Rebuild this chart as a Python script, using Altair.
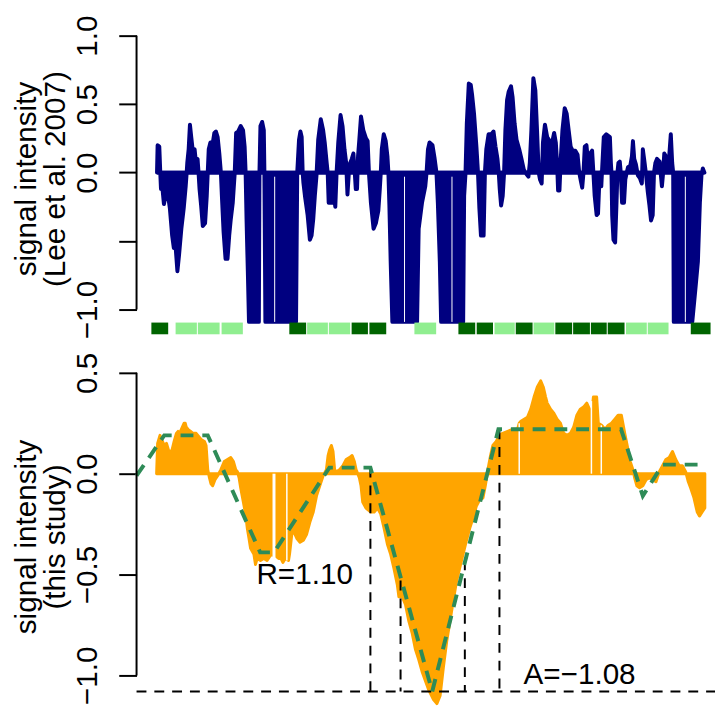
import altair as alt
import pandas as pd

# ---------------- data (positions in kb from the left edge of the region) ----------------
top_pos = [2.07, 2.13, 2.30, 2.40, 2.47, 2.60, 2.77, 2.93, 3.13, 3.37, 3.60, 3.77, 3.93, 4.13, 4.30, 4.53, 4.77, 4.97,
           5.07, 5.13, 5.27, 5.40, 5.53, 5.67, 5.87, 5.97, 6.17, 6.27, 6.37, 6.53, 6.70, 6.93, 7.10, 7.20, 7.30, 7.47,
           7.67, 7.87, 8.03, 8.20, 8.37, 8.53, 8.63, 8.80, 9.00, 9.20, 9.37, 9.53, 9.73, 9.93, 10.07, 10.27, 10.53,
           10.77, 10.93, 11.03, 11.13, 11.27, 11.37, 12.37, 12.43, 12.53, 12.70, 12.87, 12.93, 13.03, 16.13, 16.25,
           16.43, 16.57, 16.70, 16.80, 16.87, 17.03, 17.30, 17.53, 17.70, 17.87, 18.03, 18.20, 18.37, 18.63, 18.87,
           19.03, 19.23, 19.33, 19.43, 19.77, 19.97, 20.10, 20.23, 20.40, 20.63, 20.83, 21.03, 21.20, 21.33, 21.47,
           21.60, 21.77, 21.93, 22.07, 22.17, 22.30, 22.40, 22.53, 22.70, 22.93, 23.20, 23.37, 23.50, 23.70, 23.97,
           24.20, 24.45, 24.60, 24.70, 24.80, 25.00, 25.20, 25.37, 25.47, 25.57, 25.70, 25.87, 28.37, 28.53, 28.87,
           29.20, 29.33, 29.47, 29.63, 29.93, 30.13, 30.33, 30.47, 30.67, 30.80, 33.03, 33.13, 33.27, 33.40, 33.60,
           33.80, 33.93, 34.13, 34.37, 34.53, 34.67, 34.83, 35.10, 35.23, 35.37, 35.60, 35.87, 36.10, 36.30, 36.50,
           36.63, 36.73, 36.87, 37.03, 37.17, 37.30, 37.47, 37.63, 37.87, 38.03, 38.23, 38.43, 38.70, 38.93, 39.17,
           39.43, 39.63, 39.77, 39.93, 40.13, 40.33, 40.50, 40.67, 40.80, 40.97, 41.10, 41.30, 41.53, 41.70, 41.87,
           42.03, 42.23, 42.40, 42.53, 42.63, 42.77, 42.90, 43.07, 43.30, 43.50, 43.70, 43.90, 44.10, 44.37, 44.60,
           44.77, 44.93, 45.07, 45.20, 45.33, 45.50, 45.67, 45.87, 46.07, 46.20, 46.33, 46.53, 46.67, 46.77, 46.87,
           47.00, 47.10, 47.25, 47.50, 47.87, 47.97, 48.03, 48.10, 48.23, 48.40, 48.53, 48.63, 48.73, 48.87, 48.97,
           49.10, 49.30, 49.43, 49.57, 49.70, 49.93, 50.10, 50.20, 50.33, 50.50, 50.70, 50.90, 51.10, 51.20, 51.33,
           51.50, 51.70, 51.87, 52.03, 52.20, 52.33, 52.47, 52.63, 52.90, 53.00, 53.13, 53.23, 53.37, 53.53, 53.67,
           53.87, 54.03, 54.17, 54.27, 54.33, 56.20, 56.53, 56.77, 56.97, 57.13, 57.27, 57.43]
top_val = [0, 0.20, 0.19, 0, -0.12, -0.10, -0.23, -0.17, -0.14, -0.26, -0.46, -0.55, -0.52, -0.72, -0.60, -0.41, -0.26, -0.10,
           0, 0.07, 0.17, 0.35, 0.26, 0.17, 0.17, 0.10, 0.10, 0, -0.12, -0.24, -0.39, -0.37, -0.17, 0, 0.17, 0.22,
           0.20, 0.29, 0.30, 0.26, 0.14, 0, -0.17, -0.43, -0.63, -0.63, -0.46, -0.34, -0.22, 0, 0.29, 0.30, 0.34,
           0.31, 0.19, 0, -0.36, -0.77, -1.09, -1.09, 0, 0.34, 0.37, 0.31, 0, -1.09, -1.09, 0,
           0.24, 0.30, 0.26, 0, -0.07, -0.17, -0.31, -0.49, -0.46, -0.34, -0.17, -0.02, 0.24, 0.39, 0.31,
           0.22, 0.07, 0, -0.22, -0.22, -0.17, -0.25, 0, 0.22, 0.42, 0.34, 0.17, 0.07, -0.16, 0,
           0.07, 0.10, 0.14, 0, -0.12, -0.12, 0.12, 0.24, 0.41, 0.31, 0.25, 0.23, 0, -0.22, -0.41,
           -0.37, -0.28, -0.12, 0, 0.17, 0.28, 0.23, 0.12, 0, -0.24, -0.65, -1.09, -1.09, -0.41, -0.22,
           -0.10, 0, 0.17, 0.22, 0.20, 0.11, 0, -0.22, -0.65, -1.09, -1.09, -0.17, 0, 0.36, 0.65,
           0.64, 0.57, 0.43, 0.19, 0, -0.26, -0.46, -0.46, 0, 0.17, 0.28, 0.28, 0.30, 0.19, 0.10,
           0, -0.12, -0.24, -0.17, 0, 0.31, 0.53, 0.59, 0.63, 0.55, 0.36, 0.24, 0.17, 0.10, 0.02,
           -0.01, -0.03, 0.07, 0.31, 0.69, 0.60, 0.31, 0, -0.05, -0.08, 0.22, 0.35, 0.26, 0.24, 0.17,
           0.22, 0.29, 0.22, 0.07, -0.13, -0.13, 0.10, 0.31, 0.47, 0.43, 0.31, 0.19, 0.16, 0.16, 0.13,
           0, -0.06, -0.11, 0, 0.19, 0.20, 0.07, 0.14, 0.16, 0, -0.17, -0.31, -0.30, -0.12, 0,
           -0.10, 0.05, 0.26, 0.28, 0.26, 0.07, 0, -0.31, -0.49, -0.51, -0.24, 0, 0.07, 0.08, 0,
           -0.22, -0.22, -0.05, 0, 0.04, 0.05, 0.12, 0.23, 0.10, 0.06, -0.02, -0.04, -0.08, 0.17, 0.10,
           0, -0.14, -0.24, -0.35, -0.31, 0, 0.07, 0.10, 0.08, 0, -0.10, -0.02, 0.14, 0.12, 0.05,
           0.12, 0.28, 0.07, 0, -1.09, -1.09, -0.84, -0.65, -0.22, -0.02, 0.03, 0]

top_gap_pos = [13.97, 27.10, 31.90, 55.50]

bar_start = [1.50, 3.95, 6.20, 8.60, 15.45, 17.25, 19.45, 21.75, 23.55, 28.10, 32.55, 34.40, 36.20, 38.35, 40.15,
             42.35, 44.15, 45.95, 47.65, 49.50, 51.70, 56.05]
bar_end = [3.20, 6.10, 8.40, 10.75, 17.15, 19.35, 21.60, 23.40, 25.25, 30.30, 34.25, 36.05, 38.25, 40.05, 42.25,
           44.05, 45.85, 47.55, 49.35, 51.60, 53.80, 58.05]
bar_kind = ["dark", "light", "light", "light", "dark", "light", "light", "dark", "dark", "light", "dark", "dark",
            "light", "dark", "light", "dark", "dark", "dark", "dark", "light", "light", "dark"]

bot_pos = [2.03, 2.13, 2.37, 2.53, 2.80, 3.03, 3.27, 3.47, 3.60, 3.80, 4.03, 4.20, 4.37, 4.53, 4.80, 4.93, 5.03, 5.20,
           5.47, 5.70, 6.03, 6.20, 6.53, 6.87, 7.03, 7.20, 7.37, 7.53, 7.70, 7.93, 8.20, 8.53, 8.87, 9.20, 9.53, 9.80,
           10.03, 10.20, 10.37, 10.53, 10.80, 11.03, 11.20, 11.37, 11.53, 11.87, 12.03, 12.20, 12.53, 12.87, 13.20,
           13.60, 14.13, 14.37, 14.60, 14.80, 15.03, 15.37, 15.47, 15.70, 15.93, 16.20, 16.53, 16.87, 17.20, 17.53,
           17.87, 18.20, 18.53, 18.87, 19.20, 19.37, 19.53, 19.70, 19.87, 20.03, 20.20, 20.53, 20.87, 21.20, 21.53,
           21.80, 22.03, 22.20, 22.53, 22.70, 22.87, 23.20, 23.70, 24.03, 24.37, 24.70, 25.03, 25.37, 25.70, 26.03,
           26.37, 26.53, 26.87, 27.20, 27.53, 27.87, 28.20, 28.53, 28.87, 29.53, 30.03, 30.37, 30.70, 31.03, 31.37,
           31.70, 32.03, 32.37, 32.87, 33.37, 33.70, 34.03, 34.37, 34.70, 35.03, 35.27, 35.53, 35.80, 36.03, 36.37,
           36.70, 37.03, 37.53, 38.03, 38.53, 38.70, 38.87, 39.20, 39.53, 39.87, 40.20, 40.53, 40.87, 41.13, 41.37,
           41.53, 41.87, 42.20, 42.53, 42.87, 43.20, 43.53, 43.87, 44.20, 44.53, 44.87, 45.20, 45.53, 45.80, 46.03,
           46.20, 46.53, 46.70, 47.03, 47.37, 47.70, 48.03, 48.37, 48.70, 49.03, 49.37, 49.70, 49.93, 50.20, 50.37,
           50.60, 50.87, 51.20, 51.53, 51.87, 52.20, 52.53, 52.87, 53.20, 53.53, 53.87, 54.20, 54.53, 54.87, 55.20,
           55.53, 55.80, 56.03, 56.37, 56.70, 56.93, 57.20, 57.47]
bot_val = [0, 0.15, 0.19, 0.17, 0.14, 0.15, 0.11, 0.11, 0.12, 0.16, 0.20, 0.21, 0.20, 0.22, 0.25, 0.25, 0.23, 0.22,
           0.21, 0.20, 0.20, 0.19, 0.17, 0.16, 0.14, 0.02, -0.02, -0.05, -0.06, -0.03, -0.01, 0.02, 0.06, 0.07, 0.08, 0.06,
           0.02, 0.01, -0.02, -0.07, -0.14, -0.20, -0.27, -0.32, -0.37, -0.40, -0.45, -0.42, -0.43, -0.42, -0.43,
           -0.40, -0.41, -0.42, -0.42, -0.44, -0.42, -0.43, -0.40, -0.30, -0.29, -0.32, -0.34, -0.33, -0.30, -0.24,
           -0.19, -0.11, -0.06, -0.01, 0.02, 0.09, 0.12, 0.14, 0.11, 0.02, 0.01, 0.02, 0.04, 0.07, 0.08,
           0.09, 0.06, 0.02, -0.02, -0.06, -0.14, -0.17, -0.19, -0.19, -0.17, -0.20, -0.27, -0.35, -0.40, -0.47,
           -0.55, -0.61, -0.61, -0.65, -0.73, -0.79, -0.87, -0.92, -0.98, -1.07, -1.12, -1.14, -1.10, -0.96, -0.83,
           -0.73, -0.63, -0.53, -0.43, -0.33, -0.27, -0.22, -0.16, -0.13, -0.12, -0.06, 0.02, 0.09, 0.14, 0.16,
           0.19, 0.20, 0.21, 0.22, 0.22, 0.25, 0.26, 0.27, 0.28, 0.32, 0.38, 0.43, 0.46, 0.43, 0.38,
           0.35, 0.32, 0.30, 0.27, 0.25, 0.20, 0.19, 0.20, 0.23, 0.29, 0.32, 0.33, 0.35, 0.32, 0.29,
           0.38, 0.38, 0.25, 0.24, 0.22, 0.24, 0.25, 0.27, 0.29, 0.29, 0.20, 0.12, 0.06, 0.02, -0.02,
           -0.06, -0.07, -0.06, -0.03, -0.02, -0.03, -0.04, 0.01, 0.04, 0.07, 0.08, 0.11, 0.07, 0.04, 0.04,
           0.01, -0.04, -0.07, -0.12, -0.19, -0.21, -0.19, -0.17]

bot_gap_pos = [13.90, 15.20, 38.70, 46.00, 47.00]
bot_gap_lo = [-0.45, -0.43, 0.0, 0.0, 0.0]
bot_gap_hi = [0.0, 0.0, 0.25, 0.36, 0.24]
bot_gap_w = [3, 1.5, 1.5, 1.5, 1.5]

fit_pos = [0.0, 2.8, 7.2, 12.5, 13.9, 19.5, 23.65, 29.9, 36.6, 49.0, 51.2, 53.2, 57.4]
fit_val = [-0.01, 0.19, 0.19, -0.39, -0.39, 0.03, 0.03, -1.08, 0.22, 0.22, -0.11, 0.045, 0.045]

vline_pos = [23.65, 26.70, 33.20, 36.70]
vline_top = [0.03, -0.53, -0.43, 0.22]
amp_level = -1.08
region_end = 58.5

notes_text = ["R=1.10", "A=\u22121.08"]
notes_pos = [17.0, 44.8]
notes_val = [-0.505, -1.0]

# ---------------- frames ----------------
df_top = pd.DataFrame({"pos": top_pos, "val": top_val})
df_tgap = pd.DataFrame({"pos": top_gap_pos})
df_bars = pd.DataFrame({"start": bar_start, "end": bar_end, "kind": bar_kind})
df_bot = pd.DataFrame({"pos": bot_pos, "val": bot_val})
df_bgap = pd.DataFrame({"pos": bot_gap_pos, "lo": bot_gap_lo, "hi": bot_gap_hi, "w": bot_gap_w})
df_fit = pd.DataFrame({"pos": fit_pos, "val": fit_val})
df_vl = pd.DataFrame({"pos": vline_pos, "top": vline_top})
df_notes = pd.DataFrame({"pos": notes_pos, "val": notes_val, "txt": notes_text})

FONT = "Liberation Sans"
xs = alt.Scale(domain=[0, 58.6], nice=False, zero=False)
ys_top = alt.Scale(domain=[-1.1805, 1.0794], nice=False, zero=False)
ys_bot = alt.Scale(domain=[-1.1422, 0.5637], nice=False, zero=False)


def yaxis(values, expr=None):
    kw = dict(values=values, format=".1f", title=None, domain=False, grid=False, ticks=True,
              tickSize=18, tickWidth=2, tickColor="black", labelAngle=270, labelAlign="center",
              labelBaseline="alphabetic", labelPadding=23, labelFontSize=30, labelFont=FONT,
              labelColor="black", labelFlush=False, labelOverlap=False)
    if expr:
        kw["labelExpr"] = expr
    return alt.Axis(**kw)


ax_top = yaxis([-1, -0.5, 0, 0.5, 1], "datum.value == -0.5 ? '' : datum.label")
ax_bot = yaxis([-1, -0.5, 0, 0.5])
NOX = dict(scale=xs, axis=None)
one = alt.Data(values=[{}])


def title_lines(lines, xs_px, ymid):
    out = []
    for t, xp in zip(lines, xs_px):
        out.append(alt.Chart(one).mark_text(text=t, angle=270, align="center", baseline="alphabetic",
                                            font=FONT, fontSize=30, color="black")
                   .encode(x=alt.value(xp), y=alt.value(ymid)))
    return out


# ---------------- top panel ----------------
TOP_H = 313
navy = "#000080"
t_area = alt.Chart(df_top).mark_area(color=navy, stroke=navy, strokeWidth=4, strokeJoin="round",
                                     interpolate="linear").encode(
    x=alt.X("pos:Q", **NOX), y=alt.Y("val:Q", scale=ys_top, axis=ax_top), y2=alt.Y2Datum(0))
t_zero = alt.Chart(df_top).mark_rule(color=navy, strokeWidth=4).encode(
    x=alt.X("min(pos):Q", **NOX), x2="max(pos):Q", y=alt.YDatum(0, scale=ys_top, axis=ax_top))
t_gap = alt.Chart(df_tgap).mark_rule(color="white", strokeWidth=1).encode(
    x=alt.X("pos:Q", **NOX), y=alt.YDatum(-0.03, scale=ys_top, axis=ax_top), y2=alt.Y2Datum(-1.09))
t_bars = alt.Chart(df_bars).mark_rect().encode(
    x=alt.X("start:Q", **NOX), x2="end:Q",
    y=alt.YDatum(-1.095, scale=ys_top, axis=ax_top), y2=alt.Y2Datum(-1.1805),
    color=alt.Color("kind:N", scale=alt.Scale(domain=["dark", "light"], range=["#006400", "#90EE90"]), legend=None))
t_axis = alt.Chart(one).mark_rule(color="black", strokeWidth=2).encode(
    x=alt.value(0), y=alt.YDatum(-1, scale=ys_top, axis=ax_top), y2=alt.Y2Datum(1))
t_anchor = alt.Chart(one).mark_rule(opacity=0, strokeWidth=0).encode(
    x=alt.value(-130), x2=alt.value(-130), y=alt.value(-13), y2=alt.value(-13))

top = alt.layer(t_area, t_zero, t_gap, t_bars, t_axis, t_anchor,
                *title_lines(["signal intensity", "(Lee et al. 2007)"], [-102, -72], 156)
                ).properties(width=586, height=TOP_H)

# ---------------- bottom panel ----------------
BOT_H = 348
orange = "#FFA500"
b_area = alt.Chart(df_bot).mark_area(color=orange, stroke=orange, strokeWidth=3, strokeJoin="round",
                                     interpolate="linear").encode(
    x=alt.X("pos:Q", **NOX), y=alt.Y("val:Q", scale=ys_bot, axis=ax_bot), y2=alt.Y2Datum(0))
b_gap = alt.Chart(df_bgap).mark_rule(color="white").encode(
    x=alt.X("pos:Q", **NOX), y=alt.Y("lo:Q", scale=ys_bot, axis=ax_bot), y2="hi:Q",
    strokeWidth=alt.StrokeWidth("w:Q", scale=None))
b_hline = alt.Chart(one).mark_rule(color="black", strokeWidth=2, strokeDash=[10, 8]).encode(
    x=alt.XDatum(0, **NOX), x2=alt.X2Datum(region_end), y=alt.YDatum(amp_level, scale=ys_bot, axis=ax_bot))
b_vlines = alt.Chart(df_vl).mark_rule(color="black", strokeWidth=2, strokeDash=[10, 8]).encode(
    x=alt.X("pos:Q", **NOX), y=alt.Y("top:Q", scale=ys_bot, axis=ax_bot), y2=alt.Y2Datum(amp_level))
b_fit = alt.Chart(df_fit).mark_line(color="#2E8B57", strokeWidth=4, strokeDash=[13, 9]).encode(
    x=alt.X("pos:Q", **NOX), y=alt.Y("val:Q", scale=ys_bot, axis=ax_bot))
b_notes = alt.Chart(df_notes).mark_text(font=FONT, fontSize=30, color="black", align="center",
                                        baseline="middle").encode(
    x=alt.X("pos:Q", **NOX), y=alt.Y("val:Q", scale=ys_bot, axis=ax_bot), text="txt:N")
b_axis = alt.Chart(one).mark_rule(color="black", strokeWidth=2).encode(
    x=alt.value(0), y=alt.YDatum(-1, scale=ys_bot, axis=ax_bot), y2=alt.Y2Datum(0.5))
b_anchor = alt.Chart(one).mark_rule(opacity=0, strokeWidth=0).encode(
    x=alt.value(586), x2=alt.value(586), y=alt.value(BOT_H), y2=alt.value(BOT_H))

bottom = alt.layer(b_area, b_gap, b_hline, b_vlines, b_fit, b_notes, b_axis, b_anchor,
                   *title_lines(["signal intensity", "(this study)"], [-102, -72], 179)
                   ).properties(width=586, height=BOT_H)

chart = alt.vconcat(top, bottom, spacing=26, bounds="flush").properties(
    padding=0, background="white"
).configure_view(stroke=None)

chart.save("out.html", embed_options={"renderer": "svg", "actions": False})
